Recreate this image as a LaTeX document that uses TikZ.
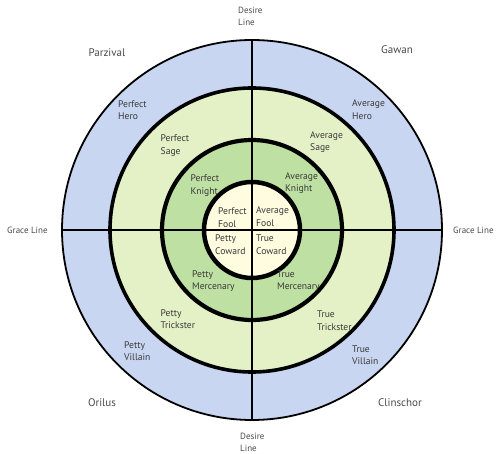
\documentclass[tikz,border=0pt]{standalone}
\usepackage{fontspec}
\setmainfont{PT Sans}
\definecolor{outerblue}{HTML}{C9D6F1}
\definecolor{lightgreen}{HTML}{E4F1C6}
\definecolor{midgreen}{HTML}{BFE0A3}
\definecolor{cream}{HTML}{FFFCE0}
\definecolor{txt}{HTML}{4A4A4A}
\definecolor{txtin}{HTML}{383838}
\begin{document}
\begin{tikzpicture}[x=1pt,y=-1pt,
  ringlab/.style={anchor=west,align=left,inner sep=0pt,font=\fontsize{9.6}{12.5}\selectfont,text=txtin},
  charname/.style={inner sep=0pt,font=\fontsize{11}{12}\selectfont,text=txt},
  axislab/.style={inner sep=0pt,align=left,font=\fontsize{9}{12.5}\selectfont,text=txt},
  ringline/.style={draw=black}]
\useasboundingbox (0,0) rectangle (496,454);
\coordinate (c) at (252,230);
% fills
\fill[outerblue] (c) circle (190);
\fill[lightgreen] (c) circle (142);
\fill[midgreen] (c) circle (90);
\fill[cream] (c) circle (48);
% cross lines
\coordinate (top) at (252,40);
\coordinate (bot) at (252,420);
\coordinate (lft) at (62,230);
\coordinate (rgt) at (442,230);
\draw[line width=1.6pt] (top) -- (bot);
\draw[line width=1.6pt] (lft) -- (rgt);
% ring outlines
\draw[ringline,line width=1.8pt] (c) circle (190);
\draw[ringline,line width=3.6pt] (c) circle (142);
\draw[ringline,line width=4.2pt] (c) circle (90);
\draw[ringline,line width=4.5pt] (c) circle (48);
% axis labels
\node[axislab,anchor=west] (dt) at (238,16.5) {Desire\\Line};
\node[axislab,anchor=west] (db) at (240,442.5) {Desire\\Line};
\node[axislab,anchor=west] (gl) at (7,230) {Grace Line};
\node[axislab,anchor=west] (gr) at (453,230) {Grace Line};
% names
\node[charname] (parz) at (107,53) {Parzival};
\node[charname] (gawan) at (397,50) {Gawan};
\node[charname] (oril) at (102,403) {Orilus};
\node[charname] (clin) at (400,403) {Clinschor};
% ring labels
\node[ringlab] (phero) at (118,110) {Perfect\\Hero};
\node[ringlab] (ahero) at (352,109.5) {Average\\Hero};
\node[ringlab] (psage) at (160.5,145.5) {Perfect\\Sage};
\node[ringlab] (asage) at (310,142) {Average\\Sage};
\node[ringlab] (pkn) at (190.5,185.5) {Perfect\\Knight};
\node[ringlab] (akn) at (285,183) {Average\\Knight};
\node[ringlab] (pfool) at (218,217.5) {Perfect\\Fool};
\node[ringlab] (afool) at (256,216.5) {Average\\Fool};
\node[ringlab] (pcow) at (215,244.5) {Petty\\Coward};
\node[ringlab] (tcow) at (256,244.5) {True\\Coward};
\node[ringlab] (pmerc) at (192,281) {Petty\\Mercenary};
\node[ringlab] (tmerc) at (277,281) {True\\Mercenary};
\node[ringlab] (ptr) at (160.5,319) {Petty\\Trickster};
\node[ringlab] (ttr) at (317,320.5) {True\\Trickster};
\node[ringlab] (pvil) at (124,351) {Petty\\Villain};
\node[ringlab] (tvil) at (352,355) {True\\Villain};
\end{tikzpicture}
\end{document}
